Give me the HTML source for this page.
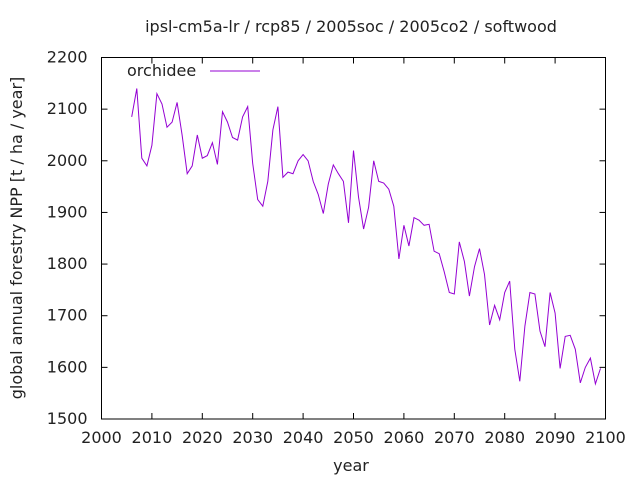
<!DOCTYPE html>
<html><head><meta charset="utf-8"><style>
html,body{margin:0;padding:0;background:#fff}
text{font-family:"DejaVu Sans",sans-serif;font-size:16px;fill:#222}
</style></head><body>
<svg id="s" width="640" height="480" xmlns="http://www.w3.org/2000/svg">
<rect width="640" height="480" fill="#fff"/>
<text x="351" y="32" text-anchor="middle">ipsl-cm5a-lr / rcp85 / 2005soc / 2005co2 / softwood</text>
<g id="ax" stroke="#000" stroke-width="1" fill="none"></g>
<g id="lb"></g>
<text x="351" y="471" text-anchor="middle">year</text>
<text transform="translate(22,238) rotate(-90)" text-anchor="middle">global annual forestry NPP [t / ha / year]</text>
<text x="127" y="76">orchidee</text>
<line x1="210" y1="71" x2="260" y2="71" stroke="#9400d3" stroke-width="1"/>
<polyline id="pl" fill="none" stroke="#9400d3" stroke-width="1"/>
</svg>
<script>
var L=101.5,R=605.5,T=57.5,B=419;
function X(y){return L+(y-2000)*(R-L)/100}
function Y(v){return T+(2200-v)*(B-T)/700}
var ax=document.getElementById('ax'),lb=document.getElementById('lb'),ns='http://www.w3.org/2000/svg';
function el(p,t,a,tx){var e=document.createElementNS(ns,t);for(var k in a)e.setAttribute(k,a[k]);if(tx)e.textContent=tx;p.appendChild(e);}
el(ax,'rect',{x:L,y:T,width:R-L,height:B-T});
for(var v=1500;v<=2200;v+=100){var y=Y(v);el(ax,'line',{x1:L,y1:y,x2:L+6,y2:y});el(ax,'line',{x1:R,y1:y,x2:R-6,y2:y});el(lb,'text',{x:L-14,y:y+5,'text-anchor':'end'},v);}
for(var yr=2000;yr<=2100;yr+=10){var x=X(yr);el(ax,'line',{x1:x,y1:B,x2:x,y2:B-6});el(ax,'line',{x1:x,y1:T,x2:x,y2:T+6});el(lb,'text',{x:x,y:B+24,'text-anchor':'middle'},yr);}
var d=[2085,2140,2005,1990,2030,2130,2110,2065,2075,2113,2050,1975,1990,2050,2005,2010,2035,1993,2095,2075,2045,2040,2085,2105,1995,1925,1912,1960,2060,2105,1968,1978,1975,2000,2012,2000,1960,1935,1898,1955,1992,1975,1960,1880,2020,1930,1868,1910,2000,1960,1957,1945,1912,1810,1875,1835,1890,1885,1875,1877,1825,1820,1785,1745,1742,1843,1805,1738,1795,1830,1780,1682,1720,1692,1745,1767,1635,1573,1680,1745,1742,1670,1640,1745,1705,1598,1660,1662,1635,1570,1600,1618,1568,1598];
var p=d.map(function(v,i){return X(2006+i).toFixed(1)+','+Y(v).toFixed(1)}).join(' ');
document.getElementById('pl').setAttribute('points',p);
</script>
</body></html>
